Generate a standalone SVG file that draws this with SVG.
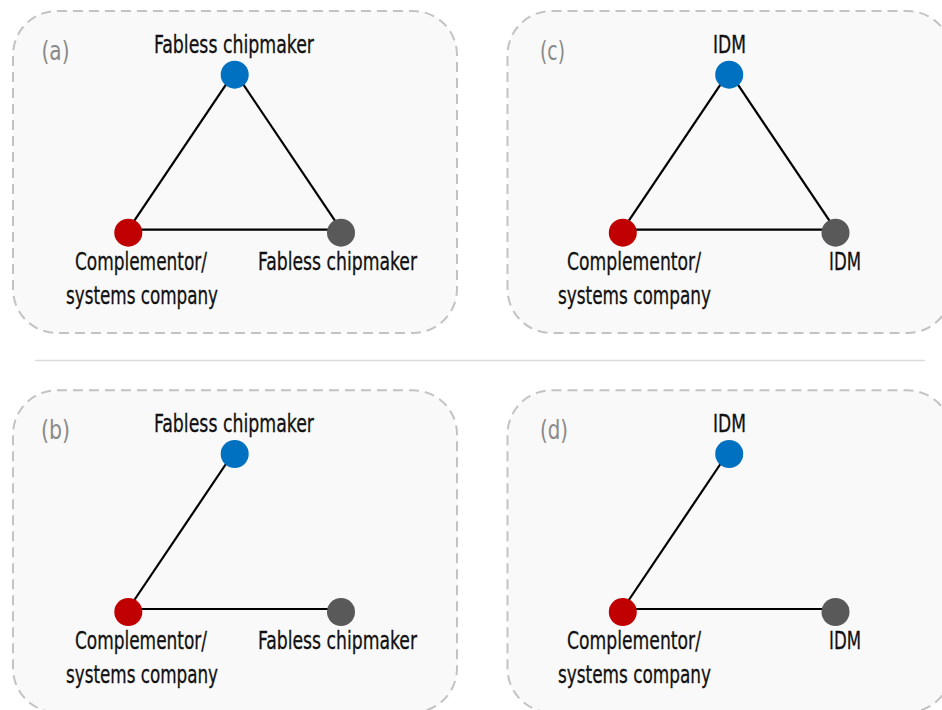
<svg xmlns="http://www.w3.org/2000/svg" width="942" height="710" viewBox="0 0 942 710">
  <style>
    .panel { fill: #f9f9f9; stroke: #c3c3c3; stroke-width: 2; stroke-dasharray: 10 6; }
    .edge { stroke: #000; stroke-width: 2.2; fill: none; }
    .lbl { font-family: "DejaVu Sans Condensed", "DejaVu Sans", sans-serif; font-stretch: condensed; font-size: 25px; fill: #111; text-anchor: middle; stroke: #111; stroke-width: 0.3; }
    .tag { font-family: "DejaVu Sans Condensed", "DejaVu Sans", sans-serif; font-stretch: condensed; font-weight: 300; font-size: 27px; fill: #8a8a8a; }
    .blue { fill: #0070c0; }
    .red { fill: #c00000; }
    .grey { fill: #595959; }
  </style>
  <rect width="942" height="710" fill="#fff"/>

  <!-- separator between the two rows -->
  <line x1="35" y1="360.5" x2="925" y2="360.5" stroke="#dcdcdc" stroke-width="1.5"/>

  <!-- (a) fabless / fabless / complementor, full triangle -->
  <g id="panel-a">
    <rect class="panel" x="13" y="11" width="444" height="322" rx="44"/>
    <text class="tag" x="41.5" y="59.5" textLength="28" lengthAdjust="spacingAndGlyphs">(a)</text>
    <g id="a-edges">
      <line class="edge" x1="128.3" y1="229.7" x2="234.7" y2="71.7"/>
      <line class="edge" x1="234.7" y1="71.7" x2="341" y2="229.7"/>
      <line class="edge" x1="128.3" y1="229.7" x2="341" y2="229.7"/>
    </g>
    <g id="a-top">
      <circle class="blue" cx="234.7" cy="74.7" r="14"/>
      <text class="lbl" x="234" y="53" textLength="160" lengthAdjust="spacingAndGlyphs">Fabless chipmaker</text>
    </g>
    <g id="a-comp">
      <circle class="red" cx="128.3" cy="232.7" r="14"/>
      <text class="lbl" x="141" y="269.5" textLength="132" lengthAdjust="spacingAndGlyphs">Complementor/</text>
      <text class="lbl" x="142" y="304" textLength="152" lengthAdjust="spacingAndGlyphs">systems company</text>
    </g>
    <g id="a-right">
      <circle class="grey" cx="341" cy="232.7" r="14"/>
      <text class="lbl" x="337.5" y="269.5" textLength="159" lengthAdjust="spacingAndGlyphs">Fabless chipmaker</text>
    </g>
  </g>

  <!-- (c) IDM / IDM / complementor, full triangle -->
  <g id="panel-c" transform="translate(494.5 0)">
    <rect class="panel" x="13" y="11" width="444" height="322" rx="44"/>
    <text class="tag" x="45.5" y="59.5" textLength="25" lengthAdjust="spacingAndGlyphs">(c)</text>
    <g id="c-edges">
      <line class="edge" x1="128.3" y1="229.7" x2="234.7" y2="71.7"/>
      <line class="edge" x1="234.7" y1="71.7" x2="341" y2="229.7"/>
      <line class="edge" x1="128.3" y1="229.7" x2="341" y2="229.7"/>
    </g>
    <g id="c-top">
      <circle class="blue" cx="234.7" cy="74.7" r="14"/>
      <text class="lbl" x="235" y="53" textLength="33" lengthAdjust="spacingAndGlyphs">IDM</text>
    </g>
    <g id="c-comp">
      <circle class="red" cx="128.3" cy="232.7" r="14"/>
      <text class="lbl" x="139.5" y="269.5" textLength="134" lengthAdjust="spacingAndGlyphs">Complementor/</text>
      <text class="lbl" x="140" y="304" textLength="153" lengthAdjust="spacingAndGlyphs">systems company</text>
    </g>
    <g id="c-right">
      <circle class="grey" cx="341" cy="232.7" r="14"/>
      <text class="lbl" x="350.5" y="269.5" textLength="32" lengthAdjust="spacingAndGlyphs">IDM</text>
    </g>
  </g>

  <!-- (b) fabless / fabless / complementor, open triangle -->
  <g id="panel-b" transform="translate(0 379.3)">
    <rect class="panel" x="13" y="11" width="444" height="322" rx="44"/>
    <text class="tag" x="41" y="59.5" textLength="29" lengthAdjust="spacingAndGlyphs">(b)</text>
    <g id="b-edges">
      <line class="edge" x1="128.3" y1="229.7" x2="234.7" y2="71.7"/>
      <line class="edge" x1="128.3" y1="229.7" x2="341" y2="229.7"/>
    </g>
    <g id="b-top">
      <circle class="blue" cx="234.7" cy="74.7" r="14"/>
      <text class="lbl" x="234" y="53" textLength="160" lengthAdjust="spacingAndGlyphs">Fabless chipmaker</text>
    </g>
    <g id="b-comp">
      <circle class="red" cx="128.3" cy="232.7" r="14"/>
      <text class="lbl" x="141" y="269.5" textLength="132" lengthAdjust="spacingAndGlyphs">Complementor/</text>
      <text class="lbl" x="142" y="304" textLength="152" lengthAdjust="spacingAndGlyphs">systems company</text>
    </g>
    <g id="b-right">
      <circle class="grey" cx="341" cy="232.7" r="14"/>
      <text class="lbl" x="337.5" y="269.5" textLength="159" lengthAdjust="spacingAndGlyphs">Fabless chipmaker</text>
    </g>
  </g>

  <!-- (d) IDM / IDM / complementor, open triangle -->
  <g id="panel-d" transform="translate(494.5 379.3)">
    <rect class="panel" x="13" y="11" width="444" height="322" rx="44"/>
    <text class="tag" x="45.5" y="59.5" textLength="28" lengthAdjust="spacingAndGlyphs">(d)</text>
    <g id="d-edges">
      <line class="edge" x1="128.3" y1="229.7" x2="234.7" y2="71.7"/>
      <line class="edge" x1="128.3" y1="229.7" x2="341" y2="229.7"/>
    </g>
    <g id="d-top">
      <circle class="blue" cx="234.7" cy="74.7" r="14"/>
      <text class="lbl" x="235" y="53" textLength="33" lengthAdjust="spacingAndGlyphs">IDM</text>
    </g>
    <g id="d-comp">
      <circle class="red" cx="128.3" cy="232.7" r="14"/>
      <text class="lbl" x="139.5" y="269.5" textLength="134" lengthAdjust="spacingAndGlyphs">Complementor/</text>
      <text class="lbl" x="140" y="304" textLength="153" lengthAdjust="spacingAndGlyphs">systems company</text>
    </g>
    <g id="d-right">
      <circle class="grey" cx="341" cy="232.7" r="14"/>
      <text class="lbl" x="350.5" y="269.5" textLength="32" lengthAdjust="spacingAndGlyphs">IDM</text>
    </g>
  </g>
</svg>
